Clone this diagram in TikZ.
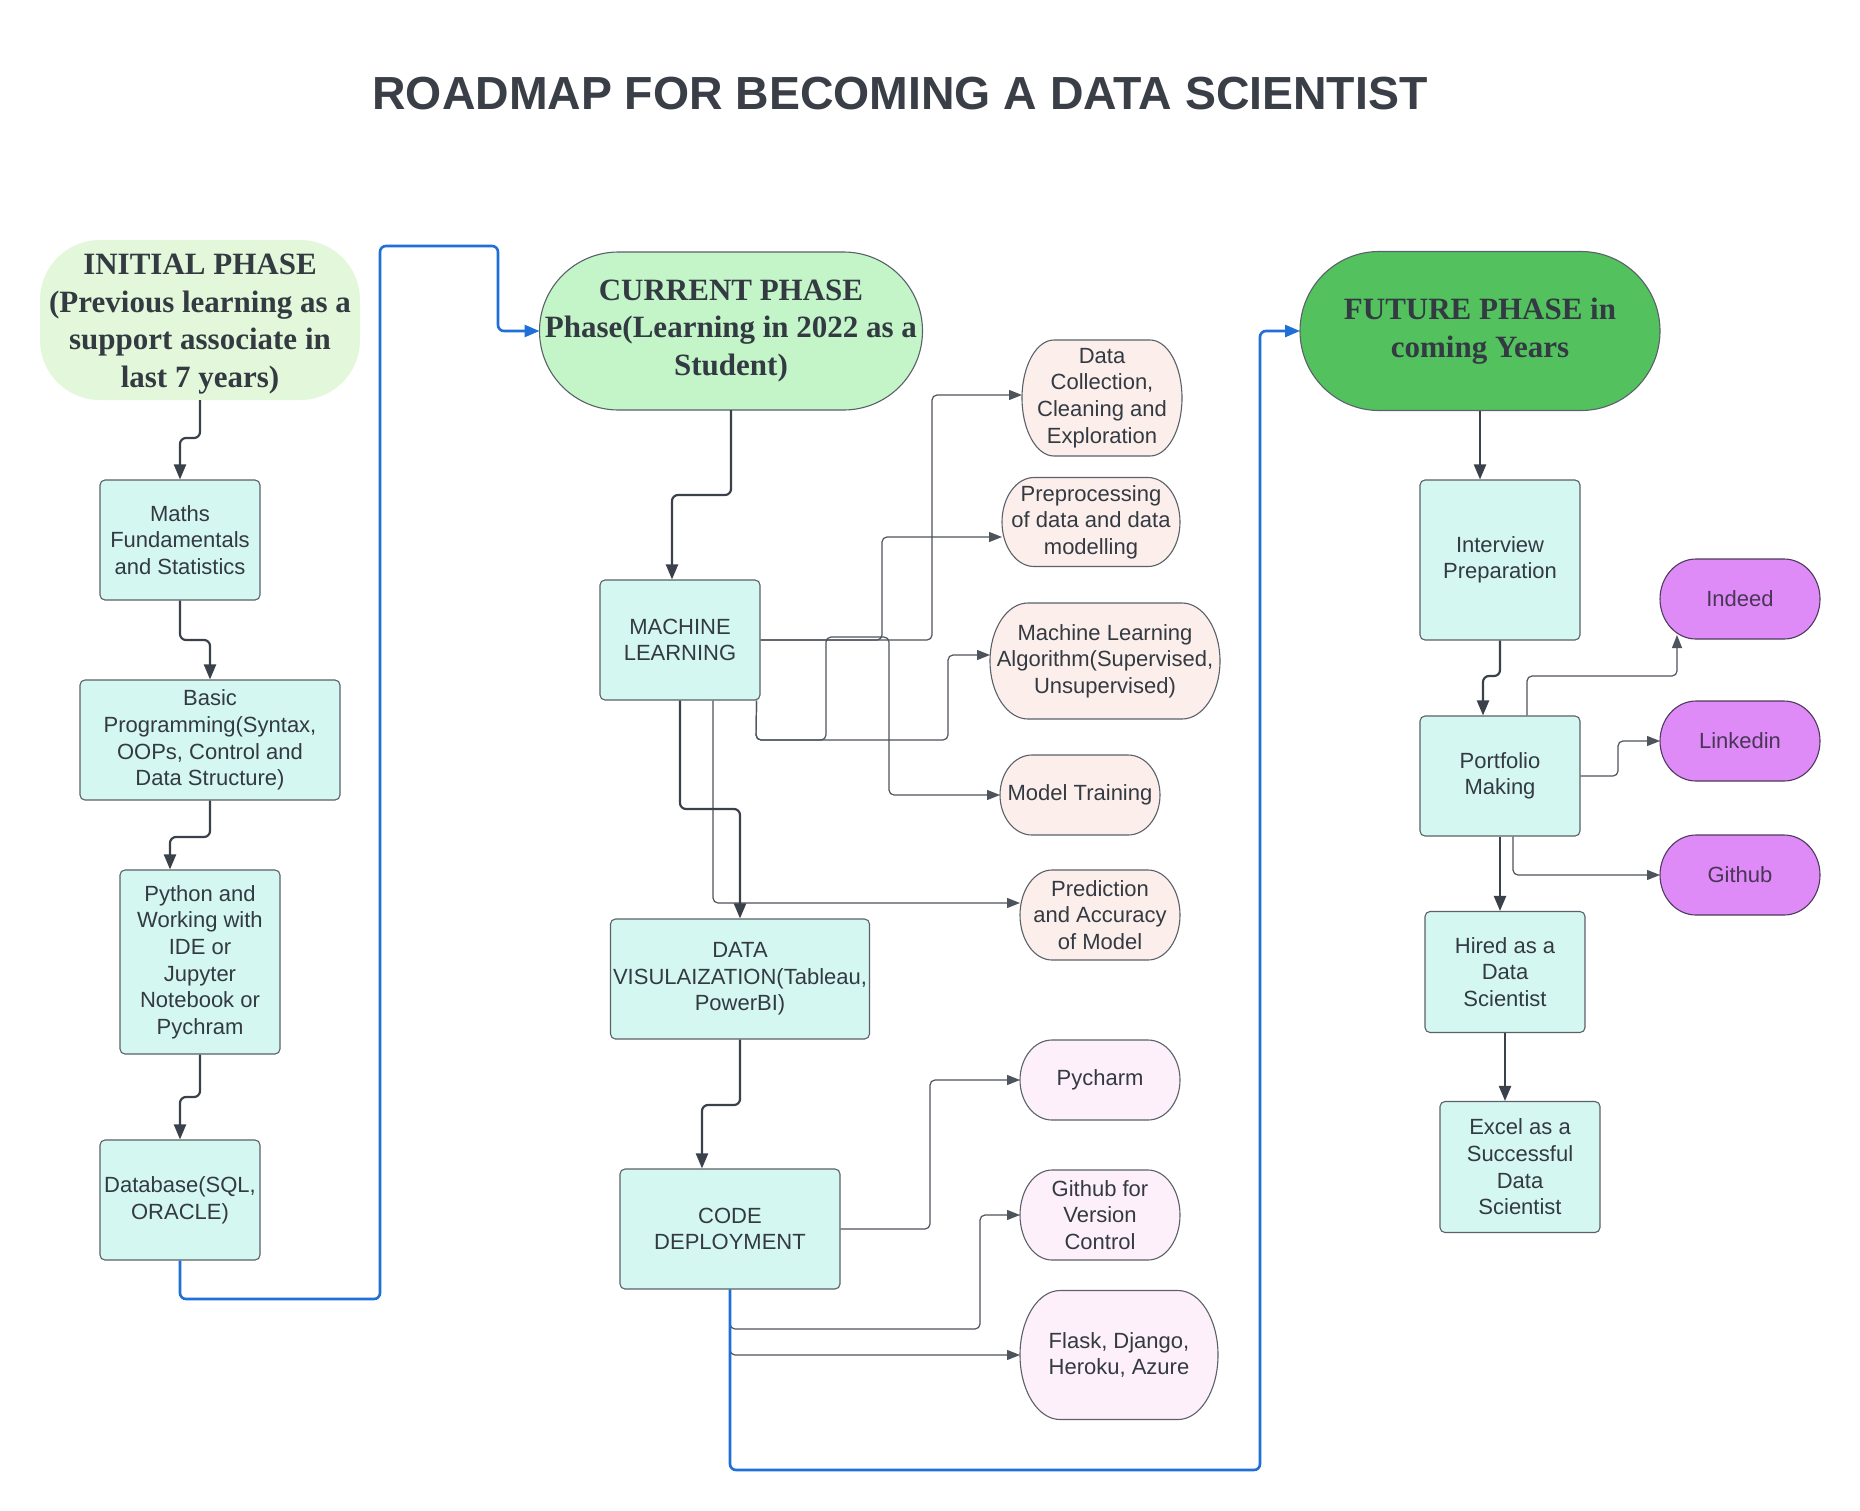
\documentclass[tikz,border=0pt]{standalone}
\usepackage{fontspec}
\setmainfont{Liberation Sans}
\newfontfamily\phasefont{Liberation Serif}
\usetikzlibrary{arrows.meta}
\definecolor{cTxt}{HTML}{333A42}
\definecolor{cTitle}{HTML}{3A3F47}
\definecolor{cBord}{HTML}{5A6169}
\definecolor{cBox}{HTML}{D5F7F2}
\definecolor{cInit}{HTML}{E3F8DA}
\definecolor{cCur}{HTML}{C3F5C8}
\definecolor{cFut}{HTML}{53C25E}
\definecolor{cPinkA}{HTML}{FCEEEB}
\definecolor{cPinkB}{HTML}{FDF0FA}
\definecolor{cViolet}{HTML}{DE8BF7}
\definecolor{cVioBord}{HTML}{4F3B5C}
\definecolor{cVioTxt}{HTML}{4A3556}
\definecolor{cArr}{HTML}{3A414A}
\definecolor{cThin}{HTML}{4D545C}
\definecolor{cBlue}{HTML}{1F6FD6}
\newcommand\bodyfnt{\fontsize{22}{26.6}\selectfont}
\newcommand\phasefnt{\phasefont\bfseries\fontsize{31}{37.5}\selectfont}
% pill with elliptical ends: #1 name, #2 outline style, #3 text style, #4 cx, #5 cy, #6 w, #7 h, #8 end radius, #9 text
\newcommand\pillnode[9]{%
 \pgfmathsetmacro\rsXl{#4-#6/2}\pgfmathsetmacro\rsXr{#4+#6/2}%
 \pgfmathsetmacro\rsYt{#5-#7/2}\pgfmathsetmacro\rsYb{#5+#7/2}%
 \pgfmathsetmacro\rsXa{\rsXl+#8}\pgfmathsetmacro\rsXb{\rsXr-#8}%
 \pgfmathsetmacro\rsKa{\rsXl+#8*0.4477}\pgfmathsetmacro\rsKb{\rsXr-#8*0.4477}%
 \pgfmathsetmacro\rsKt{#5-#7*0.27615}\pgfmathsetmacro\rsKd{#5+#7*0.27615}%
 \path[#2] (\rsXa,\rsYt) -- (\rsXb,\rsYt) .. controls (\rsKb,\rsYt) and (\rsXr,\rsKt) .. (\rsXr,#5)
   .. controls (\rsXr,\rsKd) and (\rsKb,\rsYb) .. (\rsXb,\rsYb) -- (\rsXa,\rsYb)
   .. controls (\rsKa,\rsYb) and (\rsXl,\rsKd) .. (\rsXl,#5)
   .. controls (\rsXl,\rsKt) and (\rsKa,\rsYt) .. (\rsXa,\rsYt) -- cycle;
 \node[#3, minimum width=#6pt, minimum height=#7pt] (#1) at (#4,#5) {#9};
}
\begin{document}
\begin{tikzpicture}[x=1pt,y=-1pt,
  boxn/.style={rectangle, draw=cBord, fill=cBox, rounded corners=5pt, line width=1.1pt, text=cTxt, font=\bodyfnt, align=center, inner sep=0pt},
  outpinkA/.style={draw=cBord, fill=cPinkA, line width=1.1pt},
  outpinkB/.style={draw=cBord, fill=cPinkB, line width=1.1pt},
  outviolet/.style={draw=cVioBord, fill=cViolet, line width=1.1pt},
  outcur/.style={draw=cBord, fill=cCur, line width=1.1pt},
  outfut/.style={draw=cBord, fill=cFut, line width=1.1pt},
  ptext/.style={rectangle, text=cTxt, font=\bodyfnt, align=center, inner sep=0pt, outer sep=0pt},
  vtext/.style={rectangle, text=cVioTxt, font=\bodyfnt, align=center, inner sep=0pt, outer sep=0pt},
  phtext/.style={rectangle, text=cTxt, font=\phasefnt, align=center, inner sep=0pt, outer sep=0pt},
  thickc/.style={draw=cArr, line width=2.2pt, rounded corners=6pt, -{Triangle[length=15pt,width=12pt]}},
  thinc/.style={draw=cThin, line width=1.2pt, rounded corners=5pt, -{Triangle[length=13pt,width=10pt]}},
  bluec/.style={draw=cBlue, line width=2.6pt, rounded corners=6pt, -{Triangle[length=15pt,width=12pt]}},
]
\fill[white] (0,0) rectangle (1860,1510);
\useasboundingbox (0,0) rectangle (1860,1510);

% title
\node[font=\bfseries\fontsize{46.4}{50}\selectfont, text=cTitle, inner sep=0pt] (title) at (900,94) {ROADMAP FOR BECOMING A DATA SCIENTIST};

% phases
\fill[cInit, rounded corners=60pt] (40,240) rectangle (360,400);
\node[phtext, minimum width=320pt, minimum height=152pt] (init) at (200,324) {INITIAL PHASE\\(Previous learning as a\\support associate in\\last 7 years)};
\pillnode{cur}{outcur}{phtext}{731}{331}{383}{158}{79}{CURRENT PHASE\\Phase(Learning in 2022 as a\\Student)}
\pillnode{fut}{outfut}{phtext}{1480}{331}{360}{159}{79}{FUTURE PHASE in\\coming Years}

% left column
\node[boxn, minimum width=160pt, minimum height=120pt] (maths) at (180,540) {Maths\\Fundamentals\\and Statistics};
\node[boxn, minimum width=260pt, minimum height=120pt] (basic) at (210,740) {Basic\\Programming(Syntax,\\OOPs, Control and\\Data Structure)};
\node[boxn, minimum width=160pt, minimum height=184pt] (python) at (200,962) {Python and\\Working with\\IDE or\\Jupyter\\Notebook or\\Pychram};
\node[boxn, minimum width=160pt, minimum height=120pt] (db) at (180,1200) {Database(SQL,\\ORACLE)};

% middle column
\node[boxn, minimum width=160pt, minimum height=120pt] (ml) at (680,640) {MACHINE\\LEARNING};
\node[boxn, minimum width=259pt, minimum height=120pt] (dv) at (740,979) {DATA\\VISULAIZATION(Tableau,\\PowerBI)};
\node[boxn, minimum width=220pt, minimum height=120pt] (cd) at (730,1229) {CODE\\DEPLOYMENT};

% ML outputs
\pillnode{dc}{outpinkA}{ptext}{1102}{398}{160}{116}{32}{Data\\Collection,\\Cleaning and\\Exploration}
\pillnode{pre}{outpinkA}{ptext}{1091}{522}{178}{89}{32}{Preprocessing\\of data and data\\modelling}
\pillnode{mla}{outpinkA}{ptext}{1105}{661}{230}{116}{38}{Machine Learning\\Algorithm(Supervised,\\Unsupervised)}
\pillnode{mt}{outpinkA}{ptext}{1080}{795}{160}{80}{32}{Model Training}
\pillnode{pred}{outpinkA}{ptext}{1100}{915}{160}{90}{32}{Prediction\\and Accuracy\\of Model}

% deployment outputs
\pillnode{py}{outpinkB}{ptext}{1100}{1080}{160}{80}{32}{Pycharm}
\pillnode{gh}{outpinkB}{ptext}{1100}{1215}{160}{90}{32}{Github for\\Version\\Control}
\pillnode{fl}{outpinkB}{ptext}{1119}{1355}{198}{129}{40}{Flask, Django,\\Heroku, Azure}

% right column
\node[boxn, minimum width=160pt, minimum height=160pt] (int) at (1500,560) {Interview\\Preparation};
\node[boxn, minimum width=160pt, minimum height=120pt] (port) at (1500,776) {Portfolio\\Making};
\node[boxn, minimum width=160pt, minimum height=121pt] (hired) at (1505,972) {Hired as a\\Data\\Scientist};
\node[boxn, minimum width=160pt, minimum height=131pt] (excel) at (1520,1167) {Excel as a\\Successful\\Data\\Scientist};
\pillnode{indeed}{outviolet}{vtext}{1740}{599}{160}{80}{36}{Indeed}
\pillnode{li}{outviolet}{vtext}{1740}{741}{160}{80}{36}{Linkedin}
\pillnode{gh2}{outviolet}{vtext}{1740}{875}{160}{80}{36}{Github}

% connectors: left column
\draw[thickc] (init.south) -- (200,438) -| (maths.north);
\draw[thickc] (maths.south) -- (180,640) -| (basic.north);
\draw[thickc] (basic.south) -- (210,837) -| ([xshift=-30pt]python.north);
\draw[thickc] (python.south) -- (200,1097) -| (db.north);

% connectors: middle
\draw[thickc] (cur.south) -- (731,495) -| ([xshift=-8pt]ml.north);
\draw[thinc] (ml.east) -- (932,640) |- ([yshift=3pt]dc.west);
\draw[thinc] (ml.east) -- (882,640) |- ([yshift=-15pt]pre.west);
\draw[thinc] ([xshift=-4pt]ml.south east) -- (756,740) -- (948,740) |- ([yshift=6pt]mla.west);
\draw[thinc] ([xshift=-4pt]ml.south east) -- (756,740) -- (826,740) -- (826,637) -- (889,637) |- (mt.west);
\draw[thinc] ([xshift=33pt]ml.south) |- ([yshift=12pt]pred.west);
\draw[thickc] (ml.south) -- (680,809) -| (dv.north);
\draw[thickc] (dv.south) -- (740,1105) -| ([xshift=-28pt]cd.north);
\draw[thinc] (cd.east) -- (930,1229) |- (py.west);
\draw[thinc] (cd.south) -- (730,1329) -- (980,1329) |- (gh.west);
\draw[thinc] (cd.south) |- (fl.west);

% connectors: right
\draw[thickc] (fut.south) -- ([xshift=-20pt]int.north);
\draw[thickc] (int.south) -- (1500,676) -| ([xshift=-17pt]port.north);
\draw[thinc] ([xshift=27pt]port.north) -- (1527,676) -| ([xshift=-63pt,yshift=4pt]indeed.south);
\draw[thinc] (port.east) -- (1618,776) |- (li.west);
\draw[thinc] ([xshift=13pt]port.south) |- (gh2.west);
\draw[thickc] (port.south) -- ([xshift=-5pt]hired.north);
\draw[thickc] (hired.south) -- ([xshift=-15pt]excel.north);

% blue phase links
\draw[bluec] (db.south) -- (180,1299) -- (380,1299) -- (380,246) -- (498,246) -- (498,331) -- (cur.west);
\draw[bluec] (cd.south) -- (730,1470) -- (1260,1470) -- (1260,331) -- (fut.west);
\end{tikzpicture}
\end{document}
